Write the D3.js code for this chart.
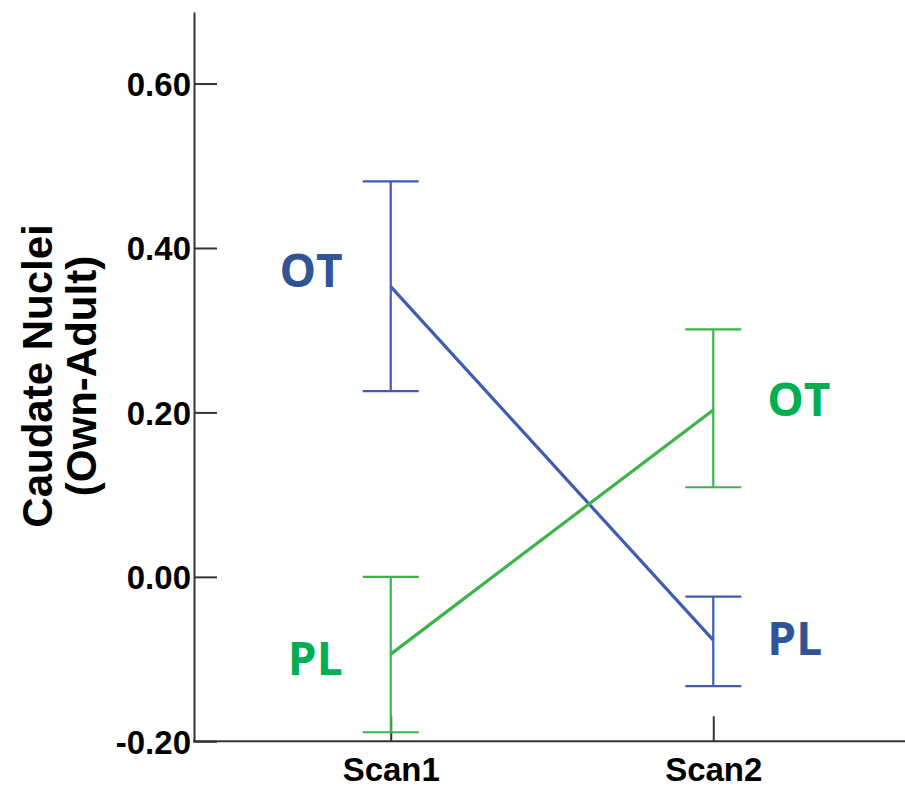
<!DOCTYPE html>
<html>
<head>
<meta charset="utf-8">
<script src="https://cdn.jsdelivr.net/npm/d3@7"></script>
<style>
  body { margin: 0; background: #fff; }
  svg { display: block; }
  .tick text { font-family: 'Liberation Sans', Arial, sans-serif; font-weight: bold; font-size: 33px; fill: #000; }
</style>
</head>
<body>
<div id="chart"></div>
<script>
// Scan time points
const scans = ['Scan1', 'Scan2'];

// Y tick values
const yTicks = [-0.2, 0, 0.2, 0.4, 0.6];

// Group means and error bar limits (blue = OT at Scan1, PL at Scan2)
const blueMean = [0.353, -0.077];
const blueUpper = [0.481, -0.024];
const blueLower = [0.226, -0.133];

// Green = PL at Scan1, OT at Scan2
const greenMean = [-0.094, 0.203];
const greenUpper = [0.0, 0.301];
const greenLower = [-0.189, 0.109];

// Point labels
const blueLabels = ['OT', 'PL'];
const greenLabels = ['PL', 'OT'];

const width = 905;
const height = 790;

const svg = d3.select('#chart')
  .append('svg')
  .attr('width', width)
  .attr('height', height);

// Scales
const x = d3.scalePoint().domain(scans).range([194, 910]).padding(0.61);
const y = d3.scaleLinear().domain([-0.2, 0.687]).range([741.3, 12]);

// Plain hyphen for negatives, like the original
const fmt = (d) => d3.format('.2f')(d).replace('\u2212', '-');

// Y axis (ticks point into the plot)
svg.append('g')
  .attr('transform', 'translate(194,0)')
  .call(d3.axisLeft(y).tickValues(yTicks).tickSize(-23).tickSizeOuter(0).tickPadding(4).tickFormat(fmt))
  .call((g) => g.select('.domain').attr('stroke', '#333').attr('stroke-width', 2))
  .call((g) => g.selectAll('.tick line').attr('stroke', '#333').attr('stroke-width', 2))
  .call((g) => g.selectAll('.tick text').attr('x', -3).attr('dy', '0.36em'));

// X axis
const xAxis = svg.append('g')
  .attr('transform', `translate(0,${y(-0.2)})`)
  .call(d3.axisBottom(x).tickSize(-25).tickPadding(12).tickSizeOuter(0))
  .call((g) => g.select('.domain').remove())
  .call((g) => g.selectAll('.tick line').attr('stroke', '#333').attr('stroke-width', 2))
  .call((g) => g.selectAll('.tick text').attr('dy', '0.85em'));
xAxis.append('line')
  .attr('x1', 193).attr('x2', width)
  .attr('stroke', '#333').attr('stroke-width', 2);

// Y axis title
svg.append('text')
  .attr('transform', 'translate(52,376) rotate(-90)')
  .attr('text-anchor', 'middle')
  .style('font-family', "'Liberation Sans', Arial, sans-serif")
  .style('font-weight', 'bold')
  .style('font-size', '42px')
  .text('Caudate Nuclei');
svg.append('text')
  .attr('transform', 'translate(96,376) rotate(-90)')
  .attr('text-anchor', 'middle')
  .style('font-family', "'Liberation Sans', Arial, sans-serif")
  .style('font-weight', 'bold')
  .style('font-size', '42px')
  .text('(Own-Adult)');

// Draws one series: error bars, line, labels
function drawSeries(mean, upper, lower, labels, lineColour, labelColour, labelY) {
  const g = svg.append('g');
  const capHalf = 28;

  scans.forEach((s, i) => {
    g.append('line')
      .attr('x1', x(s)).attr('x2', x(s))
      .attr('y1', y(upper[i])).attr('y2', y(lower[i]))
      .attr('stroke', lineColour).attr('stroke-width', 2.2);
    [upper[i], lower[i]].forEach((v) => {
      g.append('line')
        .attr('x1', x(s) - capHalf).attr('x2', x(s) + capHalf)
        .attr('y1', y(v)).attr('y2', y(v))
        .attr('stroke', lineColour).attr('stroke-width', 2.2);
    });
  });

  g.append('path')
    .datum(mean)
    .attr('fill', 'none')
    .attr('stroke', lineColour)
    .attr('stroke-width', 3.2)
    .attr('d', d3.line().x((d, i) => x(scans[i])).y((d) => y(d)));

  scans.forEach((s, i) => {
    g.append('text')
      .attr('x', i === 0 ? x(s) - 48 : x(s) + 54)
      .attr('y', labelY[i])
      .attr('text-anchor', i === 0 ? 'end' : 'start')
      .style('font-family', "'Open Sans', sans-serif")
      .style('font-weight', 'bold')
      .style('font-size', '46px')
      .attr('fill', labelColour)
      .text(labels[i]);
  });
}

drawSeries(blueMean, blueUpper, blueLower, blueLabels, '#3f5bb4', '#2f5597', [287, 655]);
drawSeries(greenMean, greenUpper, greenLower, greenLabels, '#3cb44a', '#00b050', [675, 416]);
</script>
</body>
</html>
